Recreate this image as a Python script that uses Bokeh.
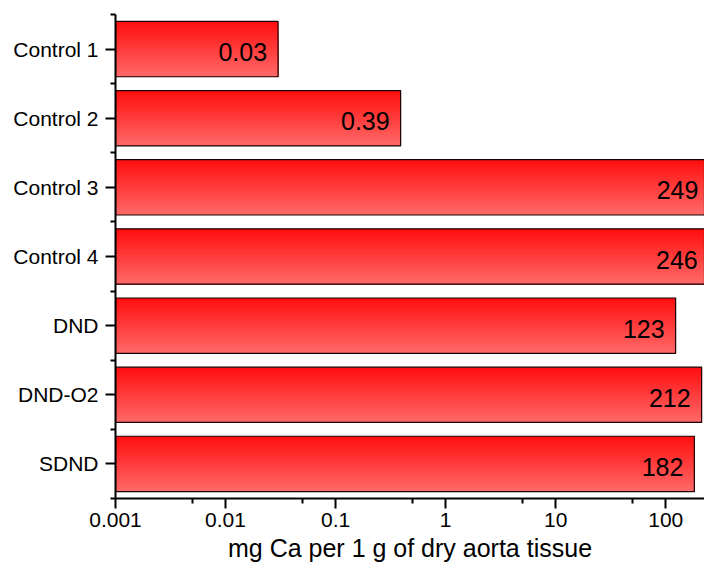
import numpy as np
from bokeh.plotting import figure
from bokeh.models import Range1d, FixedTicker, CustomJSTickFormatter, ColumnDataSource
from bokeh.core.properties import value
from bokeh.embed import file_html
from bokeh.resources import INLINE

# ---- data ----
categories = ["Control 1", "Control 2", "Control 3", "Control 4", "DND", "DND-O2", "SDND"]
amounts = [0.03, 0.39, 249, 246, 123, 212, 182]
amount_labels = ["0.03", "0.39", "249", "246", "123", "212", "182"]
x_ticks = [0.001, 0.01, 0.1, 1, 10, 100]
x_minor_ticks = [0.005, 0.05, 0.5, 5, 50]
x_title = "mg Ca per 1 g of dry aorta tissue"

FONT = "Liberation Sans"
BASE = 0.001
BAR_H = 0.8
N_STRIPS = 40
TOP_RGB = np.array([255, 14, 14])
BOT_RGB = np.array([255, 106, 106])

W, H = 704, 566
p = figure(width=W, height=H, output_backend="svg", toolbar_location=None,
           x_axis_type="log", x_range=Range1d(BASE, 225), y_range=Range1d(6.5, -0.5),
           min_border_left=115, min_border_right=0, min_border_top=14, min_border_bottom=68)
p.outline_line_color = None
p.xgrid.grid_line_color = None
p.ygrid.grid_line_color = None
p.background_fill_color = "white"
p.border_fill_color = "white"

idx = list(range(len(categories)))

# gradient fill: strips drawn top-to-bottom, each reaching the bar bottom
tops, bottoms, rights, cols = [], [], [], []
for i, v in zip(idx, amounts):
    for k in range(N_STRIPS):
        t0 = k / N_STRIPS
        tm = (k + 0.5) / N_STRIPS
        tops.append(i - BAR_H / 2 + t0 * BAR_H)
        bottoms.append(i + BAR_H / 2)
        rights.append(v)
        c = TOP_RGB + (BOT_RGB - TOP_RGB) * tm
        cols.append("#%02x%02x%02x" % tuple(int(round(x)) for x in c))
strip_src = ColumnDataSource(dict(top=tops, bottom=bottoms, right=rights, color=cols))
p.quad(left=BASE, right="right", top="top", bottom="bottom",
       fill_color="color", line_color=None, source=strip_src)

# outlines
src = ColumnDataSource(dict(y=idx, right=amounts, label=amount_labels))
p.hbar(y="y", left=BASE, right="right", height=BAR_H, fill_color=None,
       line_color="#1a0000", line_width=1.2, source=src)

# value labels
p.text(x="right", y="y", text="label", source=src, x_offset=-11, y_offset=3,
       text_align="right", text_baseline="middle",
       text_font=value(FONT), text_font_size="25px", text_color="black")

# y axis
yax = p.yaxis[0]
yax.ticker = FixedTicker(ticks=idx, minor_ticks=[i - 0.5 for i in range(len(categories) + 1)])
yax.major_label_overrides = {i: c for i, c in zip(idx, categories)}
# x axis
xax = p.xaxis[0]
xax.ticker = FixedTicker(ticks=x_ticks, minor_ticks=x_minor_ticks)
xax.formatter = CustomJSTickFormatter(code="return tick.toString();")
xax.axis_label = x_title
xax.axis_label_text_font = FONT
xax.axis_label_text_font_size = "25px"
xax.axis_label_text_font_style = "normal"
xax.axis_label_text_color = "black"
xax.axis_label_standoff = 4

for ax in (xax, yax):
    ax.axis_line_color = "black"
    ax.axis_line_width = 2
    ax.major_tick_line_color = "black"
    ax.major_tick_line_width = 2
    ax.minor_tick_line_color = "black"
    ax.minor_tick_line_width = 2
    ax.major_tick_in = 0
    ax.major_tick_out = 10
    ax.minor_tick_in = 0
    ax.minor_tick_out = 5
    ax.major_label_text_font = FONT
    ax.major_label_text_font_size = "21px"
    ax.major_label_text_color = "black"
xax.major_label_standoff = 4
yax.major_label_standoff = 7

open("out.html", "w").write(file_html(p, INLINE))
